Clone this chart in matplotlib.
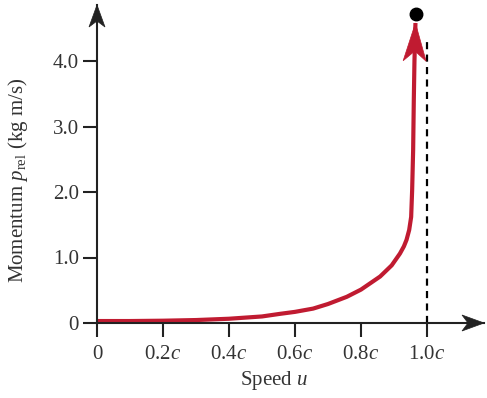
import numpy as np
import matplotlib
matplotlib.use("Agg")
import matplotlib.pyplot as plt
from matplotlib.patches import Polygon
from matplotlib.transforms import IdentityTransform

# ---- data ----
speed = [0.0, 0.1, 0.2, 0.3, 0.4, 0.5, 0.555, 0.6, 0.655, 0.7, 0.757, 0.8, 0.858,
         0.893, 0.918, 0.93, 0.938, 0.946, 0.952, 0.955, 0.958, 0.960, 0.962, 0.965]
momentum = [0.03, 0.03, 0.035, 0.045, 0.065, 0.10, 0.14, 0.17, 0.22, 0.29, 0.40, 0.51, 0.71,
            0.88, 1.06, 1.17, 1.27, 1.42, 1.62, 2.03, 2.64, 3.4, 4.0, 4.58]
dot_point = (0.966, 4.72)
limit_speed = 1.0
limit_top = 4.35
xticks = [0, 0.2, 0.4, 0.6, 0.8, 1.0]
xticklabels = ["0", "0.2$c$", "0.4$c$", "0.6$c$", "0.8$c$", "1.0$c$"]
yticks = [0, 1, 2, 3, 4]
yticklabels = ["0", "1.0", "2.0", "3.0", "4.0"]

plt.rcParams['font.family'] = ['Liberation Serif', 'DejaVu Serif']
plt.rcParams['mathtext.fontset'] = 'custom'
plt.rcParams['mathtext.rm'] = 'Liberation Serif'
plt.rcParams['mathtext.it'] = 'Liberation Serif:italic'

W, H = 487, 398
fig = plt.figure(figsize=(W / 100, H / 100), dpi=100)
x0, y0 = 97, 323
ax = fig.add_axes([x0 / W, (H - y0) / H, (484 - x0) / W, (y0 - 5) / H])
xmax = (484 - x0) / 330.0
ymax = (y0 - 5) / 65.5
ax.set_xlim(0, xmax)
ax.set_ylim(0, ymax)
for s in ax.spines.values():
    s.set_visible(False)

red = '#C01B31'
ax.plot(speed, momentum, color=red, lw=3.0, solid_capstyle='butt',
        solid_joinstyle='round', zorder=3)
ax.plot([limit_speed, limit_speed], [0, limit_top], color='black', lw=1.6,
        dashes=(3.2, 2.4), zorder=2)
ax.plot([dot_point[0]], [dot_point[1]], 'o', color='black', ms=9, zorder=4, clip_on=False)

# axis lines
ax.plot([0, xmax], [0, 0], color='#222222', lw=1.5, clip_on=False, zorder=5)
ax.plot([0, 0], [0, ymax], color='#222222', lw=1.5, clip_on=False, zorder=5)

ax.set_xticks(xticks)
ax.set_xticklabels(xticklabels)
ax.set_yticks(yticks)
ax.set_yticklabels(yticklabels)
ax.tick_params(direction='out', length=10, width=1.5, color='#222222',
               labelsize=15, labelcolor='#333333')
ax.tick_params(axis='x', pad=6)
ax.tick_params(axis='y', pad=3)


def stealth(tip_data, dir_data_from, L, hw, indent, color):
    fig.canvas.draw()
    t = ax.transData.transform(tip_data)
    f = ax.transData.transform(dir_data_from)
    d = (t - f) / np.hypot(*(t - f))
    p = np.array([-d[1], d[0]])
    pts = [t, t - L * d + hw * p, t - (L - indent) * d, t - L * d - hw * p]
    poly = Polygon(pts, closed=True, facecolor=color, edgecolor=color, lw=0.5,
                   transform=IdentityTransform(), zorder=6, clip_on=False)
    fig.add_artist(poly)

# axis arrowheads
stealth((xmax, 0), (0, 0), 22, 8, 6, '#222222')
stealth((0, ymax), (0, 0), 22, 8, 6, '#222222')
# curve arrowhead
stealth((speed[-1], momentum[-1]), (speed[-3], momentum[-3]), 38, 11.5, 10, red)

fig.text(18 / W, 1 - 180 / H, r'Momentum $p_{\mathrm{rel}}$ (kg m/s)', rotation=90,
         ha='center', va='center', fontsize=15, color='#333333')
fig.text(274 / W, 1 - 380 / H, r'Speed $u$', ha='center', va='center',
         fontsize=15, color='#333333')

fig.savefig('out.png', dpi=100)
